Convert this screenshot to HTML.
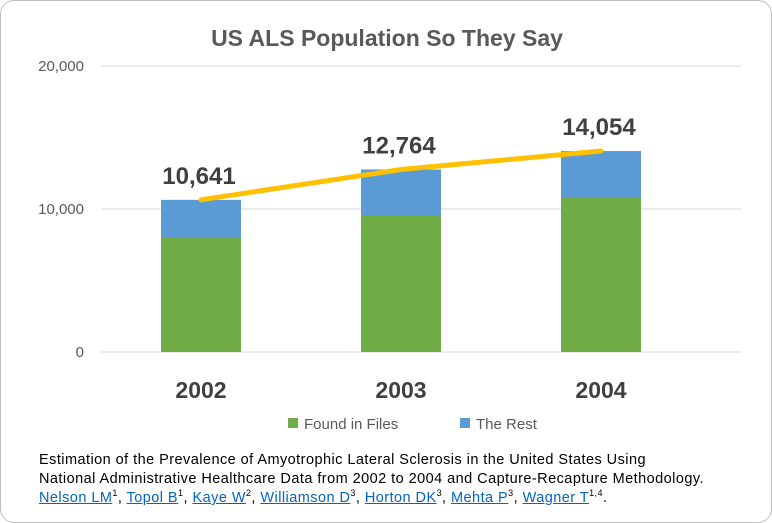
<!DOCTYPE html>
<html><head><meta charset="utf-8"><style>
body{margin:0;background:#fff;font-family:"Liberation Sans",sans-serif}
#wrap{position:relative;width:770px;height:521px;border:1px solid #bfbfbf;border-radius:14px;overflow:hidden;background:#fff}
.cite{position:absolute;left:38px;top:450px;font-size:14.5px;line-height:19px;color:#000;letter-spacing:0.45px;white-space:nowrap}
.cite a{color:#0563c1;text-decoration:underline}
sup{font-size:9px;line-height:0}
</style></head><body>
<div id="wrap">
<svg id="chart" width="772" height="445" style="position:absolute;left:0;top:0">
<text x="386" y="45" text-anchor="middle" font-size="23" font-weight="bold" fill="#595959">US ALS Population So They Say</text>
<g id="grid"></g><g id="bars"></g><g id="line"></g><g id="labels"></g>
<g>
<rect x="287" y="417" width="10" height="10" fill="#70ad47"/>
<text x="303" y="428" font-size="15" fill="#595959">Found in Files</text>
<rect x="459" y="417" width="10" height="10" fill="#5b9bd5"/>
<text x="475" y="428" font-size="15" fill="#595959">The Rest</text>
</g>
</svg>
<div class="cite">Estimation of the Prevalence of Amyotrophic Lateral Sclerosis in the United States Using<br>National Administrative Healthcare Data from 2002 to 2004 and Capture-Recapture Methodology.<br><a>Nelson LM</a><sup>1</sup>, <a>Topol B</a><sup>1</sup>, <a>Kaye W</a><sup>2</sup>, <a>Williamson D</a><sup>3</sup>, <a>Horton DK</a><sup>3</sup>, <a>Mehta P</a><sup>3</sup>, <a>Wagner T</a><sup>1,4</sup>.</div>
</div>
<script>
const categories=["2002","2003","2004"];
const foundValues=[8040,9580,10770];
const totalValues=[10641,12764,14054];
const totalLabels=["10,641","12,764","14,054"];
const yTicks=[0,10000,20000];
const yTickLabels=["0","10,000","20,000"];
const NS="http://www.w3.org/2000/svg";
const y=v=>351-v*0.0143;
const x=i=>200+i*200;
function mk(tag,attrs,parent,text){const e=document.createElementNS(NS,tag);for(const k in attrs)e.setAttribute(k,attrs[k]);if(text!==undefined)e.textContent=text;document.getElementById(parent).appendChild(e);return e;}
yTicks.forEach((t,i)=>{
 const l=mk('line',{x1:100,x2:740,y1:y(t),y2:y(t),stroke:'#d9d9d9','stroke-width':1},'grid');
 
 
 const tx=mk('text',{x:83,y:y(t)+5,'text-anchor':'end','font-size':15,fill:'#595959'},'grid',yTickLabels[i]);
 
 
});
categories.forEach((c,i)=>{
 const g=mk('rect',{x:x(i)-40,y:y(foundValues[i]),width:80,height:y(0)-y(foundValues[i]),fill:'#70ad47'},'bars');
 
 
 const b=mk('rect',{x:x(i)-40,y:y(totalValues[i]),width:80,height:y(foundValues[i])-y(totalValues[i]),fill:'#5b9bd5'},'bars');
 
 
 const ct=mk('text',{x:x(i),y:397,'text-anchor':'middle','font-size':23,'font-weight':'bold',fill:'#404040'},'labels',c);
 
 
 const vl=mk('text',{x:x(i)-2,y:y(totalValues[i])-16,'text-anchor':'middle','font-size':24,'font-weight':'bold',fill:'#404040'},'labels',totalLabels[i]);
 
 
});
const pl=mk('polyline',{points:categories.map((c,i)=>x(i)+','+y(totalValues[i])).join(' '),fill:'none',stroke:'#ffc000','stroke-width':5,'stroke-linecap':'round','stroke-linejoin':'round'},'line');


</script>
</body></html>
